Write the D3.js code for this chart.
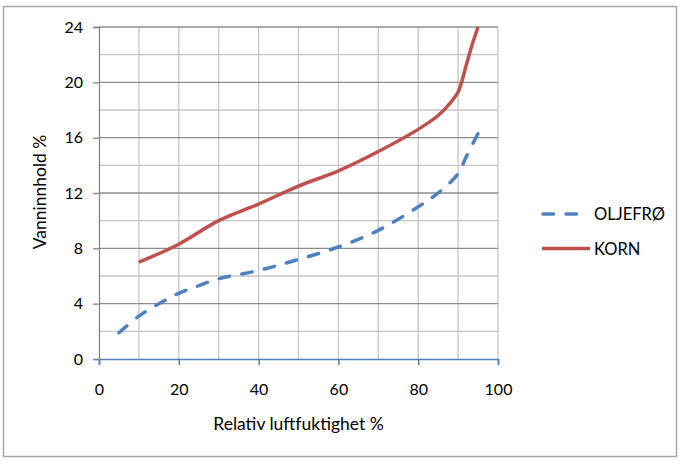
<!DOCTYPE html>
<html><head><meta charset="utf-8">
<script src="https://cdn.jsdelivr.net/npm/d3@7"></script>
<style>body{margin:0;background:#fff}svg text{font-family:Lato,"Open Sans",sans-serif;fill:#000}</style>
</head><body><svg id="c" width="686" height="467"></svg>
<script>
const oljefroX = [5,10,15,20,25,30,40,50,60,70,80,85,90,92,95];
const oljefroY = [1.9,3.1,4.0,4.75,5.3,5.8,6.4,7.2,8.1,9.3,11.0,12.0,13.4,14.6,16.3];
const kornX = [10,20,30,40,50,60,70,80,85,88,90,92,93.5,95];
const kornY = [7.0,8.3,10.0,11.2,12.5,13.6,15.0,16.6,17.6,18.5,19.3,21.2,22.7,24.0];
const seriesNames = ["OLJEFRØ","KORN"];
const xTicks = [0,20,40,60,80,100];
const yTicks = [0,4,8,12,16,20,24];
const xLabel = "Relativ luftfuktighet %";
const yLabel = "Vanninnhold %";

const svg = d3.select("#c");
svg.append("rect").attr("x",3.5).attr("y",6.5).attr("width",673).attr("height",450)
  .attr("fill","none").attr("stroke","#a6a6a6").attr("stroke-width",1.5);

const x = d3.scaleLinear().domain([0,100]).range([99,498]);
const y = d3.scaleLinear().domain([0,24]).range([359,27]);

const g = svg.append("g");
g.selectAll(".vg").data(d3.range(10,101,10)).join("line")
  .attr("x1",d=>x(d)).attr("x2",d=>x(d)).attr("y1",y(0)).attr("y2",y(24))
  .attr("stroke","#c6c6c6").attr("stroke-width",1.3);
g.selectAll(".hg").data(d3.range(2,25,2)).join("line")
  .attr("x1",x(0)).attr("x2",x(100)).attr("y1",d=>y(d)).attr("y2",d=>y(d))
  .attr("stroke",d=>d%4===0?"#8e8e8e":"#c6c6c6").attr("stroke-width",1.3);

const ya = svg.append("g").attr("transform",`translate(${x(0)},0)`)
  .call(d3.axisLeft(y).tickValues(yTicks).tickSize(6).tickPadding(10));
ya.select(".domain").attr("stroke","#868686").attr("stroke-width",1.3);
ya.selectAll(".tick line").attr("stroke","#868686").attr("stroke-width",1.3);
ya.selectAll("text").attr("font-size",16).attr("font-family","Lato,sans-serif");

const xa = svg.append("g").attr("transform",`translate(0,${y(0)})`)
  .call(d3.axisBottom(x).tickValues(xTicks).tickSize(6).tickPadding(19));
xa.select(".domain").attr("stroke","#4f81bd").attr("stroke-width",1.5);
xa.selectAll(".tick line").attr("stroke","#4f81bd").attr("stroke-width",1.5);
xa.selectAll("text").attr("font-size",16).attr("font-family","Lato,sans-serif");

svg.append("text").attr("x",298.5).attr("y",430).attr("text-anchor","middle")
  .attr("font-size",17.5).text(xLabel);
svg.append("text").attr("transform","translate(46,192) rotate(-90)").attr("text-anchor","middle")
  .attr("font-size",17.5).text(yLabel);

const line = d3.line().x(d=>x(d[0])).y(d=>y(d[1])).curve(d3.curveCatmullRom.alpha(0.5));
const blueData = oljefroX.map((v,i)=>[v,oljefroY[i]]);
const redData = kornX.map((v,i)=>[v,kornY[i]]);
svg.append("path").datum(redData).attr("d",line).attr("fill","none")
  .attr("stroke","#c0504d").attr("stroke-width",3.5).attr("stroke-linejoin","round");
svg.append("path").datum(blueData).attr("d",line).attr("fill","none")
  .attr("stroke","#4f81bd").attr("stroke-width",3.5).attr("stroke-dasharray","10.5 12.5")
  .attr("stroke-linecap","round");

svg.append("line").attr("x1",543).attr("x2",578).attr("y1",214).attr("y2",214)
  .attr("stroke","#4f81bd").attr("stroke-width",3.5).attr("stroke-dasharray","10.5 12.5").attr("stroke-linecap","round");
svg.append("line").attr("x1",542).attr("x2",590).attr("y1",248.5).attr("y2",248.5)
  .attr("stroke","#c0504d").attr("stroke-width",3.5);
svg.append("text").attr("x",594).attr("y",220).attr("font-size",16.5).text(seriesNames[0]);
svg.append("text").attr("x",594).attr("y",254.5).attr("font-size",16.5).text(seriesNames[1]);
</script></body></html>
